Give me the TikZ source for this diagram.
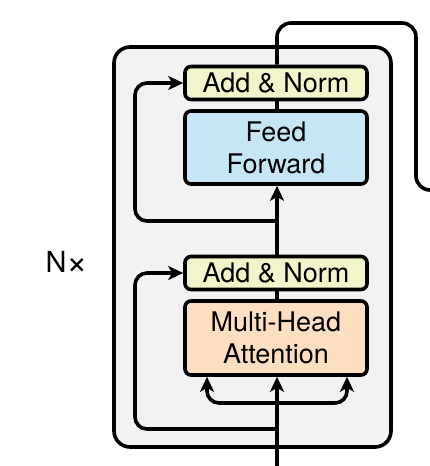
\documentclass[tikz,border=0pt]{standalone}
\usepackage{fontspec}
\setmainfont{TeX Gyre Heros}
\usetikzlibrary{arrows.meta,positioning}
\definecolor{normfill}{RGB}{242,245,202}
\definecolor{fffill}{RGB}{196,230,245}
\definecolor{attfill}{RGB}{252,223,192}
\definecolor{encfill}{RGB}{242,242,242}
\begin{document}
\begin{tikzpicture}[x=1pt,y=-1pt,line width=3.6pt,
  every node/.style={font=\fontsize{27}{32}\selectfont},
  block/.style={draw,rounded corners=6pt,minimum width=182pt,align=center,inner sep=0pt},
  flow/.style={-{Stealth[length=15pt,width=14pt,inset=4pt]}}]
\useasboundingbox (0,0) rectangle (430,466);
% encoder layer
\draw[fill=encfill,rounded corners=16pt] (114,47) rectangle (391,447);
\node[block,fill=normfill,minimum height=33pt] (norm1) at (276,83) {Add \& Norm};
\node[block,fill=fffill,minimum height=73pt] (ff) at (276,147.5) {Feed\\Forward};
\node[block,fill=normfill,minimum height=33pt] (norm2) at (276,273) {Add \& Norm};
\node[block,fill=attfill,minimum height=74pt] (mha) at (276,338) {Multi-Head\\Attention};
\node[font=\fontsize{29}{32}\selectfont] (nx) at (67,263) {N\raisebox{-2.5pt}{\fontsize{37}{37}\selectfont ×}};
% taps and turning points
\coordinate (in) at (277,466);
\coordinate (split) at (277,403);
\coordinate (restwo) at (277,429);
\coordinate (resone) at (277,221);
\coordinate (out) at (430,190);
% main path
\draw[flow] (in) -- (mha.south -| in);
\draw[flow,rounded corners=12pt] (split) -| (mha.south -| 207,0);
\draw[flow,rounded corners=12pt] (split) -| (mha.south -| 347,0);
\draw (mha.north -| in) -- (norm2.south -| in);
\draw[flow] (norm2.north -| in) -- (ff.south -| in);
\draw (ff.north -| in) -- (norm1.south -| in);
\draw[rounded corners=14pt] (norm1.north -| in) |- (416,23) |- (out);
% residual connections
\draw[flow,rounded corners=12pt] (restwo) -| (135,273) -- (norm2.west);
\draw[flow,rounded corners=12pt] (resone) -| (135,83) -- (norm1.west);
\end{tikzpicture}
\end{document}
